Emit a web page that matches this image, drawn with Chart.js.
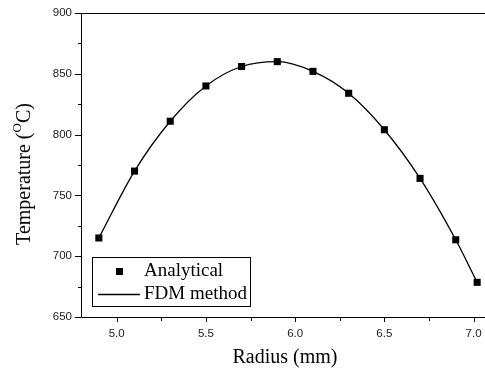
<!DOCTYPE html>
<html>
<head>
<meta charset="utf-8">
<script src="https://cdn.jsdelivr.net/npm/chart.js@4"></script>
<style>
  body { margin: 0; background: #fff; }
  #chartCanvas { display: block; }
</style>
</head>
<body>
<canvas id="chartCanvas" width="485" height="372"></canvas>
<script>
var radius = [4.9, 5.1, 5.3, 5.5, 5.7, 5.9, 6.1, 6.3, 6.5, 6.7, 6.9, 7.02];
var analyticalTemp = [715, 770, 811, 840, 856, 860, 852, 834, 804, 764, 713.5, 678.5];
var fdmTemp = [715, 770, 811, 840, 856, 860, 852, 834, 804, 764, 713.5, 678.5];
var xTicks = [5.0, 5.5, 6.0, 6.5, 7.0];
var yTicks = [650, 700, 750, 800, 850, 900];

function toPoints(xs, ys) {
  var pts = [];
  for (var i = 0; i < xs.length; i++) pts.push({ x: xs[i], y: ys[i] });
  return pts;
}

var serif = "'Liberation Serif', 'Times New Roman', serif";

// frame, ticks, axis titles and legend box drawn by hand
var framePlugin = {
  id: "frame",
  afterDraw: function (chart) {
    var ctx = chart.ctx;
    var a = chart.chartArea;
    var xs = chart.scales.x;
    var ys = chart.scales.y;
    ctx.save();
    ctx.strokeStyle = "#000";
    ctx.lineWidth = 1;
    ctx.beginPath();
    ctx.moveTo(a.left + 0.5, a.top + 0.5);
    ctx.lineTo(a.right, a.top + 0.5);
    ctx.moveTo(a.left + 0.5, a.top);
    ctx.lineTo(a.left + 0.5, a.bottom + 0.5);
    ctx.lineTo(a.right, a.bottom + 0.5);

    var i, p;
    for (i = 0; i < xTicks.length; i++) {
      p = Math.round(xs.getPixelForValue(xTicks[i])) + 0.5;
      ctx.moveTo(p, a.bottom); ctx.lineTo(p, a.bottom + 5);
      var m = xs.getPixelForValue(xTicks[i] + 0.25);
      if (m < a.right) {
        m = Math.round(m) + 0.5;
        ctx.moveTo(m, a.bottom); ctx.lineTo(m, a.bottom + 4);
      }
    }
    var m0 = Math.round(xs.getPixelForValue(xTicks[0] - 0.25)) + 0.5;
    if (m0 > a.left) { ctx.moveTo(m0, a.bottom); ctx.lineTo(m0, a.bottom + 4); }

    for (i = 0; i < yTicks.length; i++) {
      p = Math.round(ys.getPixelForValue(yTicks[i])) + 0.5;
      ctx.moveTo(a.left, p); ctx.lineTo(a.left - 6, p);
      if (i < yTicks.length - 1) {
        var q = Math.round(ys.getPixelForValue(yTicks[i] + 25)) + 0.5;
        ctx.moveTo(a.left, q); ctx.lineTo(a.left - 3, q);
      }
    }
    ctx.stroke();

    // axis titles
    ctx.fillStyle = "#000";
    ctx.font = "20px " + serif;
    ctx.textAlign = "center";
    ctx.textBaseline = "middle";
    ctx.fillText("Radius (mm)", 285, 358);

    ctx.save();
    ctx.translate(25, 174);
    ctx.rotate(-Math.PI / 2);
    ctx.textAlign = "left";
    var t1 = "Temperature (";
    var t2 = "O";
    var t3 = "C)";
    ctx.font = "20px " + serif;
    var w1 = ctx.measureText(t1).width;
    ctx.font = "13px " + serif;
    var w2 = ctx.measureText(t2).width;
    ctx.font = "20px " + serif;
    var w3 = ctx.measureText(t3).width;
    var x0 = -(w1 + w2 + w3) / 2;
    ctx.fillText(t1, x0, 0);
    ctx.font = "13px " + serif;
    ctx.fillText(t2, x0 + w1, -7);
    ctx.font = "20px " + serif;
    ctx.fillText(t3, x0 + w1 + w2, 0);
    ctx.restore();

    // legend
    var lx = 92.5, ly = 257.5, lw = 158, lh = 49;
    ctx.fillStyle = "#fff";
    ctx.fillRect(lx, ly, lw, lh);
    ctx.strokeStyle = "#000";
    ctx.lineWidth = 1;
    ctx.strokeRect(lx, ly, lw, lh);
    var ds0 = chart.data.datasets[0];
    var ds1 = chart.data.datasets[1];
    ctx.fillStyle = ds0.pointBackgroundColor;
    ctx.fillRect(116, 268, 7, 7);
    ctx.strokeStyle = ds1.borderColor;
    ctx.lineWidth = 1.3;
    ctx.beginPath();
    ctx.moveTo(98, 294.5);
    ctx.lineTo(140, 294.5);
    ctx.stroke();
    ctx.fillStyle = "#000";
    ctx.font = "19px " + serif;
    ctx.textAlign = "left";
    ctx.textBaseline = "middle";
    ctx.fillText(ds0.label, 144, 271);
    ctx.fillText(ds1.label, 144, 294);
    ctx.restore();
  }
};

var canvas = document.getElementById("chartCanvas");

var tempChart = new Chart(canvas, {
  type: "line",
  data: {
    datasets: [
      {
        label: "Analytical",
        data: toPoints(radius, analyticalTemp),
        showLine: false,
        pointStyle: "rect",
        pointRadius: 5,
        pointBackgroundColor: "#000",
        pointBorderColor: "#000",
        pointBorderWidth: 0,
        clip: false,
        order: 0
      },
      {
        label: "FDM method",
        data: toPoints(radius, fdmTemp),
        borderColor: "#000",
        backgroundColor: "rgba(0,0,0,0)",
        borderWidth: 1.3,
        pointRadius: 0,
        cubicInterpolationMode: "monotone",
        order: 1
      }
    ]
  },
  options: {
    responsive: false,
    animation: false,
    layout: { autoPadding: false, padding: { left: 0, top: 13, right: 0, bottom: 0 } },
    plugins: {
      legend: { display: false },
      tooltip: { enabled: false }
    },
    scales: {
      x: {
        type: "linear",
        min: 4.8,
        max: 7.064,
        afterBuildTicks: function (scale) {
          scale.ticks = xTicks.map(function (v) { return { value: v }; });
        },
        afterFit: function (scale) {
          scale.height = 55;
          scale.paddingLeft = 0;
          scale.paddingRight = 0;
        },
        grid: { display: false, drawTicks: false },
        border: { display: false },
        ticks: {
          padding: 10,
          color: "#222",
          font: { family: "'Liberation Sans', Arial, sans-serif", size: 11.5 },
          callback: function (v) { return Number(v).toFixed(1); }
        }
      },
      y: {
        min: 650,
        max: 900,
        afterBuildTicks: function (scale) {
          scale.ticks = yTicks.map(function (v) { return { value: v }; });
        },
        afterFit: function (scale) {
          scale.width = 81;
          scale.paddingTop = 0;
          scale.paddingBottom = 0;
        },
        grid: { display: false, drawTicks: false },
        border: { display: false },
        ticks: {
          padding: 9,
          color: "#222",
          font: { family: "'Liberation Sans', Arial, sans-serif", size: 11.5 }
        }
      }
    }
  },
  plugins: [framePlugin]
});
</script>
</body>
</html>
